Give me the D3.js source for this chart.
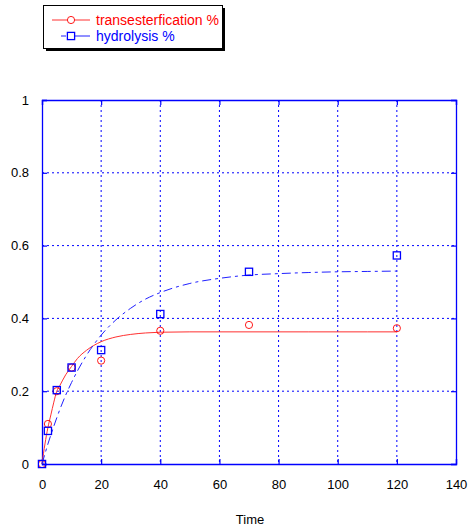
<!DOCTYPE html>
<html>
<head>
<meta charset="utf-8">
<script src="https://cdn.jsdelivr.net/npm/d3@7"></script>
<style>
  html, body { margin: 0; padding: 0; background: #fff; }
  svg { display: block; font-family: Arial, "Liberation Sans", sans-serif; }
</style>
</head>
<body>
<svg id="chart" width="471" height="532"></svg>
<script>
// Measured samples
const sampleTimes = [0, 2, 5, 10, 20, 40, 70, 120];
const transesterification = [0, 0.11, 0.20, 0.265, 0.284, 0.366, 0.382, 0.373];
const hydrolysis = [0, 0.091, 0.203, 0.265, 0.313, 0.412, 0.528, 0.573];

// Fitted trend curves
const fitTimes = [0, 1, 2, 3, 4, 5, 6, 8, 10, 12, 15, 20, 25, 30, 35, 40, 50, 60, 70, 80, 90, 100, 110, 120];
const transFit = [0, 0.055, 0.10, 0.135, 0.17, 0.20, 0.215, 0.245, 0.268, 0.29, 0.312, 0.336, 0.349, 0.356, 0.36, 0.362, 0.363, 0.363, 0.363, 0.363, 0.363, 0.363, 0.363, 0.363];
const hydroFit = [0, 0.028, 0.055, 0.080, 0.104, 0.127, 0.149, 0.189, 0.224, 0.256, 0.298, 0.354, 0.396, 0.428, 0.453, 0.471, 0.496, 0.510, 0.519, 0.523, 0.526, 0.528, 0.529, 0.530];

const xTicks = [0, 20, 40, 60, 80, 100, 120, 140];
const yTicks = [0, 0.2, 0.4, 0.6, 0.8, 1];
const seriesNames = ["transesterfication %", "hydrolysis %"];

const svg = d3.select("#chart");
const blue = "#0000ff", red = "#ff0000";

const x = d3.scaleLinear().domain([0, 140]).range([42, 456]);
const y = d3.scaleLinear().domain([0, 1]).range([464, 100]);

// grid
const grid = svg.append("g");
grid.selectAll("line.v").data(xTicks.slice(1, -1)).join("line")
  .attr("x1", d => x(d)).attr("x2", d => x(d))
  .attr("y1", y(1)).attr("y2", y(0))
  .attr("stroke", blue).attr("stroke-width", 1).attr("stroke-dasharray", "2,3");
grid.selectAll("line.h").data(yTicks.slice(1, -1)).join("line")
  .attr("x1", x(0)).attr("x2", x(140))
  .attr("y1", d => y(d)).attr("y2", d => y(d))
  .attr("stroke", blue).attr("stroke-width", 1).attr("stroke-dasharray", "2,3");

// axes with inward ticks
const xAxis = svg.append("g").attr("transform", `translate(0,${y(0)})`)
  .call(d3.axisBottom(x).tickValues(xTicks).tickSize(-5).tickPadding(16).tickFormat(d3.format("d")));
const xAxisTop = svg.append("g").attr("transform", `translate(0,${y(1)})`)
  .call(d3.axisTop(x).tickValues(xTicks).tickSize(-5).tickFormat(""));
const yAxis = svg.append("g").attr("transform", `translate(${x(0)},0)`)
  .call(d3.axisLeft(y).tickValues(yTicks).tickSize(-5).tickPadding(13).tickFormat(d => d === 0 || d === 1 ? d3.format("d")(d) : d3.format(".1f")(d)));
const yAxisRight = svg.append("g").attr("transform", `translate(${x(140)},0)`)
  .call(d3.axisRight(y).tickValues(yTicks).tickSize(-5).tickFormat(""));

[xAxis, xAxisTop, yAxis, yAxisRight].forEach(g => {
  g.selectAll(".domain").attr("stroke", blue).attr("stroke-width", 1.3);
  g.selectAll(".tick line").attr("stroke", blue).attr("stroke-width", 1.2);
  g.selectAll(".tick text").attr("fill", "#000").style("font-size", "13px")
    .style("font-family", "Arial, 'Liberation Sans', sans-serif");
});

// axis title
svg.append("text").attr("x", 250).attr("y", 524).attr("text-anchor", "middle")
  .style("font-size", "13px").attr("fill", "#000").text("Time");

// fitted curves
const line = d3.line().x(d => x(d[0])).y(d => y(d[1])).curve(d3.curveMonotoneX);
svg.append("path").datum(fitTimes.map((t, i) => [t, transFit[i]]))
  .attr("d", line).attr("fill", "none").attr("stroke", "#ff3030").attr("stroke-width", 1);
svg.append("path").datum(fitTimes.map((t, i) => [t, hydroFit[i]]))
  .attr("d", line).attr("fill", "none").attr("stroke", "#2020ff").attr("stroke-width", 1)
  .attr("stroke-dasharray", "9,4,3,4");

// markers
svg.append("g").selectAll("circle").data(sampleTimes.map((t, i) => [t, transesterification[i]])).join("circle")
  .attr("cx", d => x(d[0])).attr("cy", d => y(d[1])).attr("r", 3.6)
  .attr("fill", "none").attr("stroke", red).attr("stroke-width", 0.9);
svg.append("g").selectAll("rect").data(sampleTimes.map((t, i) => [t, hydrolysis[i]])).join("rect")
  .attr("x", d => x(d[0]) - 3.6).attr("y", d => y(d[1]) - 3.6).attr("width", 7.2).attr("height", 7.2)
  .attr("fill", "none").attr("stroke", blue).attr("stroke-width", 1.3);

// legend
const lg = svg.append("g");
lg.append("rect").attr("x", 46).attr("y", 8).attr("width", 179).attr("height", 43).attr("fill", "#000");
lg.append("rect").attr("x", 43.5).attr("y", 5.5).attr("width", 179).attr("height", 43)
  .attr("fill", "#fff").attr("stroke", "#000").attr("stroke-width", 1);
lg.append("line").attr("x1", 52).attr("x2", 90).attr("y1", 20).attr("y2", 20).attr("stroke", "#ff3030");
lg.append("circle").attr("cx", 71).attr("cy", 20).attr("r", 3.6).attr("fill", "#fff").attr("stroke", red).attr("stroke-width", 0.9);
lg.append("line").attr("x1", 61).attr("x2", 90).attr("y1", 36).attr("y2", 36).attr("stroke", "#2020ff")
  .attr("stroke-dasharray", "5,3,22");
lg.append("rect").attr("x", 67.4).attr("y", 32.4).attr("width", 7.2).attr("height", 7.2)
  .attr("fill", "#fff").attr("stroke", blue).attr("stroke-width", 1.3);
lg.append("text").attr("x", 96).attr("y", 25).attr("fill", red).style("font-size", "14px").text(seriesNames[0]);
lg.append("text").attr("x", 96).attr("y", 41).attr("fill", blue).style("font-size", "14px").text(seriesNames[1]);
</script>
</body>
</html>
